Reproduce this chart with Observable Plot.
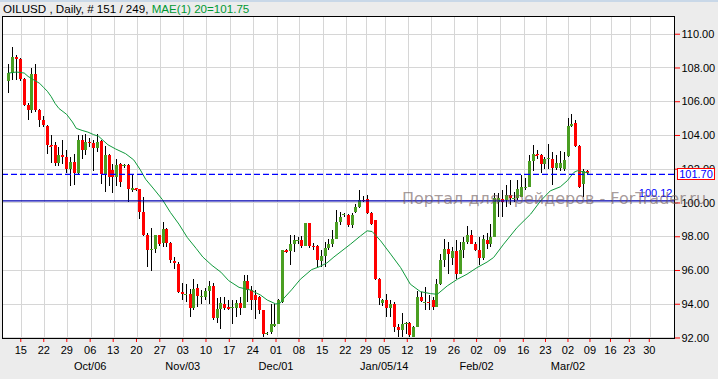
<!DOCTYPE html>
<html><head><meta charset="utf-8">
<script src="https://cdn.jsdelivr.net/npm/d3@7"></script>
<script src="https://cdn.jsdelivr.net/npm/@observablehq/plot@0.6"></script>
<style>
html,body{margin:0;padding:0;background:#ececec;width:718px;height:379px;overflow:hidden;font-family:"Liberation Sans",Arial,sans-serif}
#wrap{position:relative;width:718px;height:379px}
#strip{height:2px;background:#c9d8e8}
#hdr{height:13px;font-size:11.6px;line-height:13px;padding-left:3px;white-space:nowrap;color:#000}
#hdr .ma{color:#009933}
#chart svg{display:block}
#wm{position:absolute;left:402px;top:191px;font:16px "DejaVu Sans";line-height:16px;color:rgba(110,90,90,0.62);white-space:nowrap;pointer-events:none}
#bid{position:absolute;left:677px;width:36px;height:10px;border:1px solid #ff0000;background:#fff;color:#0000ff;font-size:11px;line-height:10px;text-align:center}
</style></head>
<body><div id="wrap">
<div id="strip"></div>
<div id="hdr">OILUSD , Daily, # 151 / 249, <span class="ma">MAE(1) 20=101.75</span></div>
<div id="chart"></div>
<div id="wm">Портал для трейдеров - ForTrader.ru</div>
<div id="bid"></div>
</div>
<script>
const open = [107.21,107.69,108.63,108.5,107.3,105.77,105.47,107.6,105.5,104.88,
104.56,103.41,103.43,102.35,102.8,102.67,102.0,102.37,101.75,103.7,
103.1,103.6,103.5,103.2,103.65,101.67,102.8,101.95,101.51,102.27,
102.15,102.2,100.72,100.83,100.77,99.44,98.1,97.16,97.26,98.05,
97.6,98.45,97.6,96.53,96.37,94.69,94.55,94.59,93.76,94.95,
94.43,94.39,94.75,95.03,93.17,93.68,94.0,93.8,93.76,93.76,
94.04,93.76,95.34,94.79,94.49,94.39,93.6,92.24,92.32,92.71,
92.81,94.1,97.16,97.12,97.56,97.76,97.76,97.4,98.78,97.45,
97.4,96.53,96.81,97.32,97.56,97.86,98.84,99.3,99.24,98.65,
99.44,99.73,100.17,100.23,99.38,98.98,95.48,94.04,94.2,93.76,
94.0,92.61,92.42,92.81,92.85,92.0,92.61,94.39,94.1,94.12,
94.2,93.8,95.19,96.61,97.26,96.73,97.12,95.78,97.16,97.66,
98.05,97.56,97.21,96.74,97.8,97.56,97.96,100.03,100.23,100.13,
100.43,100.27,100.29,100.33,100.83,100.89,102.47,102.86,102.8,102.27,
102.55,102.6,102.06,102.06,102.01,102.74,104.52,104.72,103.33,101.08,
101.87];
const high = [108.2,109.23,108.76,108.55,107.35,105.87,107.95,108.2,105.55,105.1,
104.6,103.99,103.6,103.3,103.7,103.1,102.7,102.9,103.99,103.99,
104.05,103.8,103.73,104.05,103.7,103.35,102.9,102.3,102.6,102.35,
102.3,102.3,101.7,100.88,100.8,100.33,98.2,98.5,98.05,98.1,
98.84,98.5,97.65,96.77,96.5,95.2,95.19,94.9,95.48,95.19,
94.79,94.95,95.34,95.22,94.36,94.39,94.39,94.2,94.24,94.24,
94.39,95.68,95.68,95.03,94.79,94.43,93.6,92.32,93.96,94.0,
94.3,97.2,97.25,98.05,98.1,97.95,98.0,98.8,98.8,97.6,
97.46,97.16,97.66,97.86,98.35,99.54,99.44,99.38,99.34,99.38,
99.93,100.74,100.4,100.43,99.44,98.98,95.5,94.3,94.59,94.2,
94.1,92.81,93.44,92.91,92.91,92.71,94.75,94.69,94.99,94.49,
94.39,95.48,96.97,97.86,97.66,97.36,97.76,97.66,97.95,98.59,
98.35,97.66,97.96,98.1,98.2,98.75,100.57,100.57,100.73,101.02,
101.36,100.63,101.36,101.62,101.48,102.8,103.39,103.09,102.9,102.7,
103.49,102.99,102.8,103.05,102.99,104.98,105.23,104.88,103.39,102.01,
101.91];
const low = [106.5,107.25,107.25,107.2,105.7,104.88,105.31,105.37,104.48,104.45,
102.9,102.33,102.15,102.15,102.3,101.75,101.0,101.05,101.7,102.6,
102.8,103.3,101.87,103.0,101.1,100.62,101.0,100.57,101.0,100.9,
102.05,100.03,100.6,100.7,99.04,98.0,96.17,95.93,97.0,97.4,
97.36,97.36,96.4,96.08,94.65,94.2,94.1,93.2,93.6,93.8,
94.0,94.24,94.0,93.01,92.85,92.51,93.6,93.6,92.77,93.2,
93.31,93.76,94.1,93.6,93.11,93.4,92.0,92.12,92.22,92.61,
92.77,94.05,97.0,96.27,97.06,97.56,97.3,97.4,97.3,97.2,
96.17,96.17,96.17,97.16,97.36,97.86,98.65,99.14,98.55,98.5,
99.38,99.7,100.05,99.34,98.65,95.38,93.9,93.84,93.2,93.2,
92.32,92.0,92.0,92.22,92.0,92.0,92.61,94.1,93.6,93.6,
93.6,93.8,95.09,96.17,95.78,96.27,95.48,95.74,96.73,97.52,
97.52,97.12,96.28,96.6,97.27,97.37,97.96,99.14,99.14,99.73,
99.83,100.03,100.13,100.33,100.73,100.89,101.87,102.6,101.72,102.01,
102.01,101.02,101.91,101.87,101.87,102.7,104.5,103.29,100.83,100.33,
101.68];
const close = [107.69,108.6,108.52,107.3,105.77,105.47,107.6,105.5,104.88,104.6,
103.41,103.36,102.33,102.8,102.67,102.0,102.37,101.75,103.7,103.1,
103.6,103.5,103.2,103.6,101.67,102.8,101.5,101.51,102.25,101.22,
102.22,100.77,100.83,100.77,99.44,98.05,97.16,97.26,98.05,97.56,
98.45,97.6,96.57,96.41,94.69,94.55,94.59,93.76,94.89,94.43,
94.45,94.75,95.03,93.17,93.68,94.04,93.76,93.74,93.78,94.04,
93.76,95.34,94.79,94.2,94.2,93.6,92.22,92.28,92.81,92.81,
94.24,97.16,97.12,97.56,97.76,97.77,97.4,98.78,97.4,97.35,
96.57,96.81,97.32,97.56,97.86,98.84,99.14,99.31,98.65,99.24,
99.73,100.13,100.1,99.38,98.75,95.48,94.36,94.2,93.76,94.0,
92.61,92.42,92.81,92.84,92.12,92.61,94.39,94.16,94.12,94.1,
93.8,95.19,96.61,97.26,96.97,97.12,95.78,97.16,97.66,98.05,
97.56,97.2,96.74,97.84,97.56,97.96,100.29,100.29,100.03,100.43,
100.29,100.28,100.77,100.89,100.93,102.47,102.9,102.8,102.27,102.55,
102.66,102.06,102.35,102.35,102.5,104.52,104.68,103.33,100.93,101.87,
101.72];

const maIdx = [0,2,4,5,6.5,8,9,10,11,12,13,15,16.5,17.5,19,20.5,22,23.3,25.7,27.7,
30.3,32.4,34,35.5,37.6,39.8,41.9,44.1,46.3,48.6,50.3,52.7,55,57,59.7,62.7,65.3,67,69.2,70.3,
71.3,73.3,75.6,78.5,80.5,82.5,84.3,88.6,91.2,92.9,94.2,96.4,99,101.6,104.1,106.7,109.3,111.1,113.7,116.3,
118.8,121.4,124,125.7,128.3,131.8,135.3,137.9,140.4,143,144.8,146.5,147.4,148.2,150.3];
const maVal = [107.7,107.76,107.7,107.5,107.29,107.09,106.85,106.62,106.3,105.9,105.6,105.25,104.8,104.42,104.3,104.2,104.05,103.95,103.45,103.2,
102.92,102.55,102.0,101.4,100.83,100.21,99.44,98.75,97.95,97.3,96.8,96.3,95.9,95.4,95.0,94.84,94.54,94.25,94.02,94.05,
94.35,94.85,95.48,96.05,96.22,96.45,96.8,97.56,98.05,98.35,98.31,97.76,96.97,96.17,95.19,94.75,94.63,94.59,95.09,95.48,
95.78,96.17,96.5,96.77,97.56,98.55,99.34,100.13,100.72,100.96,101.32,101.81,101.91,101.87,101.78];

const tickIdx = [3.37,9.33,15.3,21.36,27.33,33.37,39.41,45.37,51.39,57.43,63.52,69.54,75.5,81.51,87.5,92.82,97.61,103.58,109.62,115.69,121.55,127.61,133.65,139.41,145.24,150.94,156.26,161.14,166.32];
const tickLab = ["15","22","29","06","13","20","27","03","10","17","24","01","08","15","22","29","05","12","19","26","02","09","16","23","02","09","16","23","30"];
const monthIdx = [21.36,45.37,69.54,97.61,121.55,145.24];
const monthLab = ["Oct/06","Nov/03","Dec/01","Jan/05/14","Feb/02","Mar/02"];
const yTicks = [92,94,96,98,100,102,104,106,108,110];
const bidPrice = 101.70;
const linePrice = 100.12;

const GREEN = "#4a9e22", RED = "#ff0000";
const candles = open.map((o, i) => ({i, o, h: high[i], l: low[i], c: close[i]}));
const bodyColor = d => d.c > d.o ? GREEN : d.c < d.o ? RED : "#000000";
const doji = candles.filter(d => Math.abs(d.c - d.o) < 0.07);
const ma = maIdx.map((x, k) => ({x, y: maVal[k]}));
const tickMap = new Map(tickIdx.map((t, k) => [t, tickLab[k]]));
const monthMap = new Map(monthIdx.map((t, k) => [t, monthLab[k]]));

const plot = Plot.plot({
  width: 718, height: 364,
  marginTop: 1, marginBottom: 41, marginLeft: 2, marginRight: 44,
  style: {background: "transparent", fontFamily: "'Liberation Sans', Arial, sans-serif", fontSize: "11px", overflow: "visible"},
  x: {type: "linear", domain: [-1.63, 172.6]},
  y: {domain: [91.97, 111.05]},
  color: {type: "identity"},
  marks: [
    Plot.frame({fill: "white", stroke: null}),
    Plot.gridX(tickIdx, {stroke: "#d6d6d6", strokeOpacity: 1, shapeRendering: "crispEdges"}),
    Plot.gridY(yTicks, {stroke: "#d6d6d6", strokeOpacity: 1, shapeRendering: "crispEdges"}),
    Plot.ruleX(candles, {x: "i", y1: "l", y2: "h", stroke: "#000", strokeWidth: 1, shapeRendering: "crispEdges"}),
    Plot.ruleX(candles, {x: "i", y1: "o", y2: "c", stroke: bodyColor, strokeWidth: 3, shapeRendering: "crispEdges"}),
    Plot.ruleY(doji, {y: "c", x1: d => d.i - 0.4, x2: d => d.i + 0.4, stroke: bodyColor, strokeWidth: 1, shapeRendering: "crispEdges"}),
    Plot.line(ma, {x: "x", y: "y", stroke: "#109a3c", strokeWidth: 1}),
    Plot.ruleY([bidPrice], {stroke: "#0000ff", strokeWidth: 1.2, strokeDasharray: "6,3"}),
    Plot.ruleY([linePrice], {stroke: "#0000b0", strokeWidth: 1.2}),
    Plot.text([linePrice], {y: d => d, frameAnchor: "right", textAnchor: "end", dx: -2, dy: -7, text: d => d.toFixed(2), fill: "#0000ff", fontSize: 11}),
    Plot.axisX({ticks: tickIdx, tickFormat: d => tickMap.get(d), tickSize: 4, tickPadding: 4, stroke: "#ff0000", fill: "#000", label: null, fontSize: 11, dx: -1}),
    Plot.axisX({ticks: monthIdx, tickFormat: d => monthMap.get(d), tickSize: 0, tickPadding: 24, fill: "#000", label: null, fontSize: 11, dx: -1}),
    Plot.axisY({anchor: "right", ticks: yTicks, tickFormat: d3.format(".2f"), tickSize: 5, tickPadding: 2, stroke: "#ff0000", fill: "#000", label: null, fontSize: 11}),
    Plot.frame({stroke: "#000", shapeRendering: "crispEdges"})
  ]
});
document.getElementById("chart").appendChild(plot);
const yPx = plot.scale("y").apply(bidPrice);
const bid = document.getElementById("bid");
bid.textContent = bidPrice.toFixed(2);
bid.style.top = (15 + yPx - 6) + "px";
</script>
</body></html>
